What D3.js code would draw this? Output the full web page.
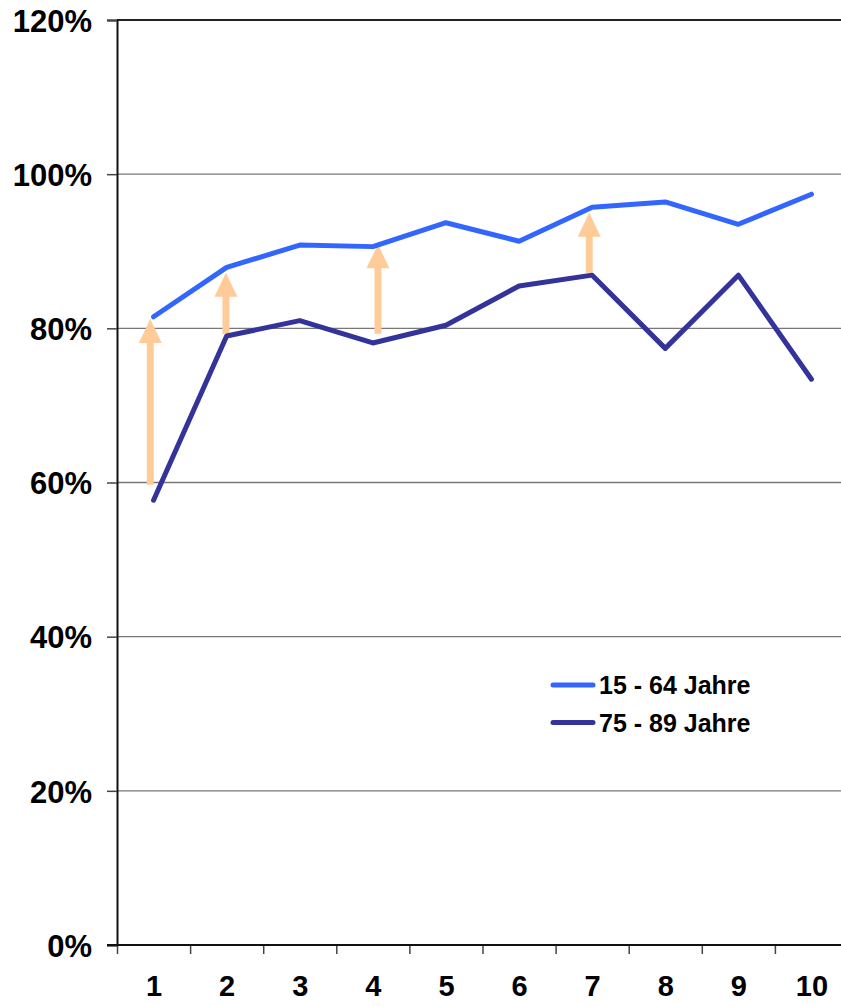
<!DOCTYPE html>
<html>
<head>
<meta charset="utf-8">
<script src="https://cdn.jsdelivr.net/npm/d3@7.9.0/dist/d3.min.js"></script>
<style>
  body { margin: 0; background: #fff; }
  svg { display: block; font-family: Arial, 'Liberation Sans', sans-serif; font-weight: bold; }
</style>
</head>
<body>
<svg id="chart" width="841" height="1006"></svg>
<script>
// categories and series
const categories = [1, 2, 3, 4, 5, 6, 7, 8, 9, 10];
const young = [0.815, 0.879, 0.908, 0.906, 0.937, 0.913, 0.957, 0.964, 0.935, 0.974];
const old = [0.577, 0.790, 0.810, 0.781, 0.804, 0.855, 0.869, 0.774, 0.869, 0.734];
const yTicks = [0, 0.2, 0.4, 0.6, 0.8, 1.0, 1.2];

// arrows: category position, from value, to value
const arrowPos = [0.955, 1.99, 4.07, 6.96];
const arrowFrom = [0.597, 0.793, 0.793, 0.872];
const arrowTo = [0.812, 0.872, 0.909, 0.950];

const legendLabels = ['15 - 64 Jahre', '75 - 89 Jahre'];
const colors = ['#3366ff', '#333399'];

const svg = d3.select('#chart');

const plotLeft = 117, plotRight = 848, plotTop = 20, plotBottom = 945;

let x = d3.scaleLinear().domain([0.5, 10.5]).range([plotLeft, plotRight]);
let y = d3.scaleLinear().domain([0, 1.2]).range([plotBottom, plotTop]);

// gridlines
svg.append('g')
  .selectAll('line')
  .data(yTicks.filter((d) => d > 0))
  .join('line')
  .attr('x1', plotLeft)
  .attr('x2', 841)
  .attr('y1', (d) => y(d))
  .attr('y2', (d) => y(d))
  .attr('stroke', (d) => (d === 1.2 ? '#222' : '#777'))
  .attr('stroke-width', (d) => (d === 1.2 ? 2 : 1.3));

// y axis
let yAxis = svg.append('g')
  .attr('transform', `translate(${plotLeft},0)`)
  .call(d3.axisLeft(y).tickValues(yTicks).tickSize(10).tickPadding(15)
    .tickFormat((d) => Math.round(d * 100) + '%'));
yAxis.select('.domain').attr('stroke', '#111').attr('stroke-width', 2);
yAxis.selectAll('.tick line').attr('stroke', '#444').attr('stroke-width', 1.5);
yAxis.selectAll('text')
  .attr('font-size', 31)
  .attr('font-family', "Arial, 'Liberation Sans', sans-serif")
  .attr('font-weight', 'bold')
  .attr('fill', '#000')
  .attr('dy', '0.36em');

// x axis: tick marks between categories
let xAxis = svg.append('g')
  .attr('transform', `translate(0,${plotBottom})`)
  .call(d3.axisBottom(x).tickValues(d3.range(0.5, 11, 1)).tickSize(9).tickFormat(''));
xAxis.select('.domain').remove();
xAxis.selectAll('.tick line').attr('stroke', '#444').attr('stroke-width', 1.5);
svg.append('line')
  .attr('x1', 107).attr('x2', 841)
  .attr('y1', plotBottom).attr('y2', plotBottom)
  .attr('stroke', '#111').attr('stroke-width', 2);

// x labels
let xLabels = svg.append('g')
  .attr('transform', `translate(0,${plotBottom})`)
  .call(d3.axisBottom(x).tickValues(categories).tickSize(0).tickPadding(30));
xLabels.select('.domain').remove();
xLabels.selectAll('text')
  .attr('font-size', 29)
  .attr('font-family', "Arial, 'Liberation Sans', sans-serif")
  .attr('font-weight', 'bold')
  .attr('fill', '#000');

// arrows
const shaft = 3.5, head = 11.5, headH = 24;
svg.append('g')
  .selectAll('path')
  .data(arrowPos.map((p, i) => ({ p, from: arrowFrom[i], to: arrowTo[i] })))
  .join('path')
  .attr('fill', '#ffcc99')
  .attr('d', (d) => {
    let cx = x(d.p), y0 = y(d.from), y1 = y(d.to);
    return `M${cx - shaft},${y0} L${cx - shaft},${y1 + headH} L${cx - head},${y1 + headH}` +
      ` L${cx},${y1} L${cx + head},${y1 + headH} L${cx + shaft},${y1 + headH} L${cx + shaft},${y0} Z`;
  });

// lines
let line = d3.line().x((d, i) => x(categories[i])).y((d) => y(d));
[young, old].forEach((series, idx) => {
  svg.append('path')
    .attr('d', line(series))
    .attr('fill', 'none')
    .attr('stroke', colors[idx])
    .attr('stroke-width', 5)
    .attr('stroke-linejoin', 'round')
    .attr('stroke-linecap', 'round');
});

// legend
let legend = svg.append('g');
legendLabels.forEach((label, idx) => {
  let ly = 685 + idx * 37.5;
  legend.append('line')
    .attr('x1', 553).attr('x2', 593)
    .attr('y1', ly).attr('y2', ly)
    .attr('stroke', colors[idx])
    .attr('stroke-width', 5)
    .attr('stroke-linecap', 'round');
  legend.append('text')
    .attr('x', 599)
    .attr('y', ly)
    .attr('dy', '0.36em')
    .attr('font-size', 25)
    .attr('fill', '#000')
    .text(label);
});
</script>
</body>
</html>
